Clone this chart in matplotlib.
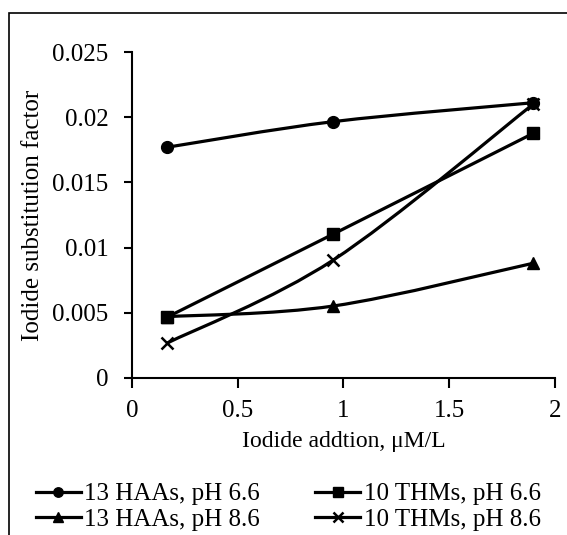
import matplotlib
matplotlib.use("Agg")
import matplotlib.pyplot as plt
from matplotlib.lines import Line2D
from matplotlib.patches import PathPatch, Rectangle
from matplotlib.path import Path

# data
iodide_x = [0.164, 0.952, 1.897]
haa_ph66 = [0.01769, 0.01966, 0.02111]
thm_ph66 = [0.00465, 0.01104, 0.01876]
haa_ph86 = [0.00470, 0.00552, 0.00880]
thm_ph86 = [0.00266, 0.00905, 0.02100]

series = [
    ("13 HAAs, pH 6.6", haa_ph66, "o", 8.5),
    ("13 HAAs, pH 8.6", haa_ph86, "^", 9),
    ("10 THMs, pH 6.6", thm_ph66, "s", 8.5),
    ("10 THMs, pH 8.6", thm_ph86, "x", 8.5),
]

plt.rcParams["font.family"] = ["Liberation Serif", "DejaVu Serif"]
plt.rcParams["font.size"] = 18


def smooth_path(xs, ys):
    # excel-like smoothed line: cubic bezier through the points
    pts = list(zip(xs, ys))
    verts = [pts[0]]
    codes = [Path.MOVETO]
    n = len(pts)
    for i in range(n - 1):
        p0 = pts[max(i - 1, 0)]
        p1 = pts[i]
        p2 = pts[i + 1]
        p3 = pts[min(i + 2, n - 1)]
        c1 = (p1[0] + (p2[0] - p0[0]) / 6, p1[1] + (p2[1] - p0[1]) / 6)
        c2 = (p2[0] - (p3[0] - p1[0]) / 6, p2[1] - (p3[1] - p1[1]) / 6)
        verts += [c1, c2, p2]
        codes += [Path.CURVE4] * 3
    return Path(verts, codes)


fig = plt.figure(figsize=(5.67, 5.35), dpi=100)
ax = fig.add_axes([0.2328, 0.2935, 0.746, 0.6093])

handles = []
for label, vals, mk, ms in series:
    ax.add_patch(PathPatch(smooth_path(iodide_x, vals), fill=False,
                           edgecolor="black", lw=2.3, zorder=2))
    mew = 1.8 if mk == "x" else 1
    ax.plot(iodide_x, vals, ls="none", marker=mk, ms=ms, color="black",
            mew=mew, zorder=3)
    handles.append(Line2D([], [], color="black", lw=2.3, marker=mk,
                          ms=ms * 0.8, mew=mew, label=label))

ax.set_xlim(0, 2)
ax.set_ylim(0, 0.025)
ax.set_xticks([0, 0.5, 1, 1.5, 2])
ax.set_xticklabels(["0", "0.5", "1", "1.5", "2"])
ax.set_yticks([0, 0.005, 0.01, 0.015, 0.02, 0.025])
ax.set_yticklabels(["0", "0.005", "0.01", "0.015", "0.02", "0.025"])
ax.tick_params(axis="y", direction="out", length=6, width=1.5, pad=11,
               labelsize=18)
ax.tick_params(axis="x", direction="out", length=7, width=1.5, pad=9,
               labelsize=18)

for side in ("top", "right"):
    ax.spines[side].set_visible(False)
for side in ("left", "bottom"):
    ax.spines[side].set_linewidth(1.5)

ax.set_xlabel("Iodide addtion, \u03bcM/L", fontsize=17, labelpad=6)
ax.set_ylabel("Iodide substitution factor", fontsize=18, labelpad=6)

fig.legend(handles=handles, ncol=2, loc="lower left",
           bbox_to_anchor=(0.045, -0.011), frameon=False, fontsize=18,
           handlelength=1.8, handletextpad=0.15, columnspacing=2.2,
           labelspacing=0.12, borderaxespad=0)

# chart area outline
fig.patches.append(Rectangle((9 / 567, -0.1), 1.2, 1 - 13 / 535 + 0.1,
                             transform=fig.transFigure, fill=False,
                             edgecolor="black", lw=1.2))

fig.savefig("out.png", dpi=100)
